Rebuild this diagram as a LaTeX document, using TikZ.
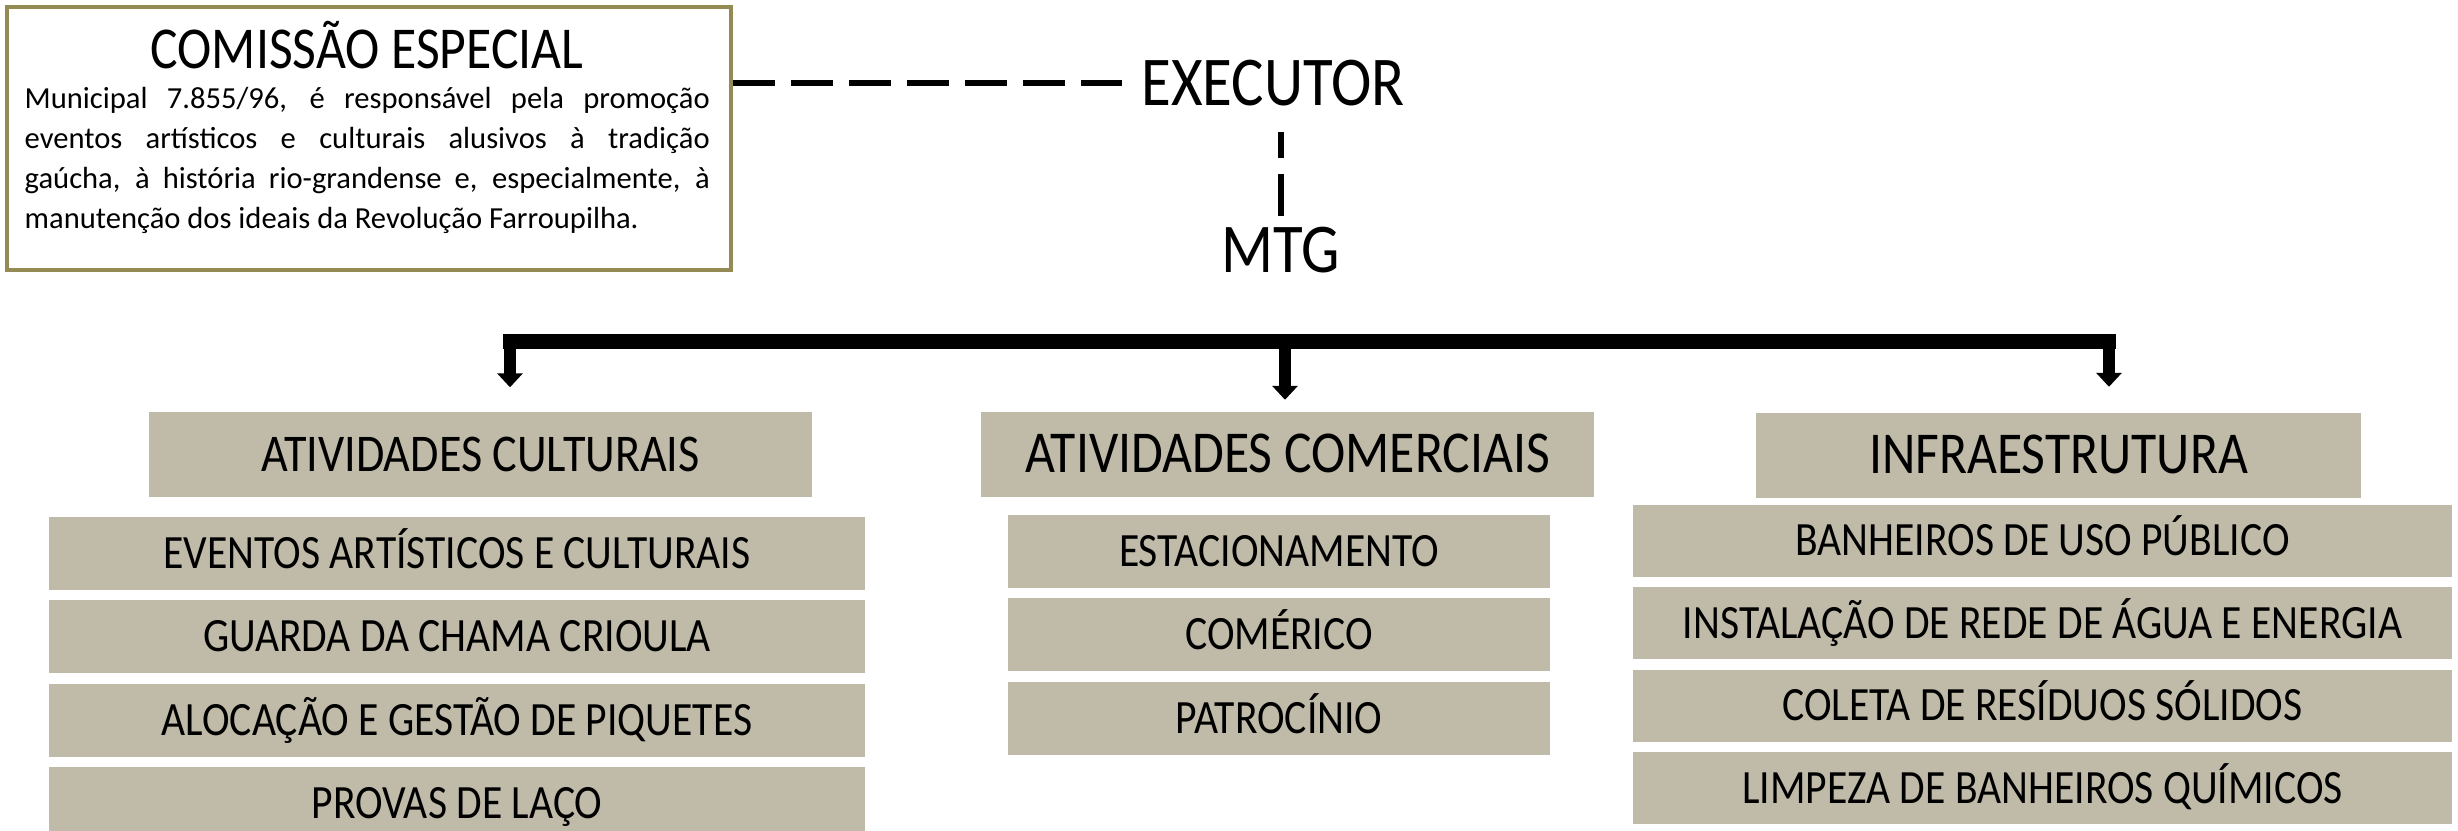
\documentclass[tikz,border=0pt]{standalone}
\usepackage{fontspec}
\setmainfont{Carlito}
\newfontfamily\estreita{Carlito}[FakeStretch=0.87]
\usetikzlibrary{arrows.meta,positioning}

\definecolor{areia}{RGB}{192,187,168}
\definecolor{oliva}{RGB}{148,138,84}

\begin{document}
\begin{tikzpicture}[
  moldura/.style={draw=oliva, line width=1.1pt, minimum width=7.24cm, minimum height=2.63cm, anchor=north west},
  rotulo/.style={inner sep=0pt, anchor=base, font=\estreita\fontsize{19.9}{23}\selectfont},
  cabeca/.style={fill=areia, minimum height=0.85cm, text height=10.7pt, text depth=0pt, font=\estreita\fontsize{16.9}{19}\selectfont},
  item/.style={fill=areia, minimum height=0.73cm, text height=8.6pt, text depth=0pt, font=\estreita\fontsize{13.6}{16}\selectfont},
  itemE/.style={item, minimum width=8.16cm},
  itemC/.style={item, minimum width=5.42cm},
  itemD/.style={item, minimum width=8.19cm, minimum height=0.72cm},
  tracejado/.style={line width=1.7pt, dash pattern=on 0.42cm off 0.16cm},
  tronco/.style={line width=4pt, line cap=rect},
  seta/.style={line width=3.4pt, -{Triangle[width=2.5mm,length=1.4mm]}},
  node distance=0.09cm
]
\useasboundingbox (0,0) rectangle (24.58,-8.31);

% comissao especial
\node[moldura] (comissao) at (0.05,-0.05) {};
\node[inner sep=0pt, anchor=base, font=\estreita\fontsize{16.9}{19}\selectfont] (nome) at (3.67,-0.68) {COMISSÃO ESPECIAL};
\node[inner sep=0pt, anchor=base west, text width=6.85cm, align=justify,
      font=\fontsize{8.7}{11.4}\selectfont] (lei) at (0.24,-1.08)
  {\hyphenpenalty=10000 \exhyphenpenalty=10000
   Municipal 7.855/96, é responsável pela promoção\linebreak
   eventos artísticos e culturais alusivos à tradição\linebreak
   gaúcha, à história rio-grandense e, especialmente, à\linebreak
   manutenção dos ideais da Revolução Farroupilha.};

\node[rotulo] (executor) at (12.73,-1.05) {EXECUTOR};
\node[rotulo] (mtg) at (12.81,-2.72) {MTG};

\draw[tracejado, shorten >=0.19cm] (comissao.east |- executor.west) -- (executor.west);
\draw[tracejado, shorten <=0.10cm, shorten >=0.26cm] (mtg.north) -- (mtg.north |- executor.south);

% ramos
\coordinate (ramoE) at (5.10,-3.415);
\coordinate (ramoC) at (12.85,-3.415);
\coordinate (ramoD) at (21.09,-3.415);

\node[cabeca, minimum width=6.63cm, text height=9.5pt, font=\estreita\fontsize{15.1}{18}\selectfont] (cultura) at (4.805,-4.545) {ATIVIDADES CULTURAIS};
\node[cabeca, minimum width=6.13cm] (comercio) at (12.875,-4.54) {ATIVIDADES COMERCIAIS};
\node[cabeca, minimum width=6.05cm] (infra) at (20.585,-4.55) {INFRAESTRUTURA};

\draw[tronco] (ramoE) -- (ramoD);
\draw[seta, shorten >=0.24cm] (ramoE) -- (ramoE |- cultura.north);
\draw[seta, shorten >=0.11cm] (ramoC) -- (ramoC |- comercio.north);
\draw[seta, shorten >=0.25cm] (ramoD) -- (ramoD |- infra.north);

% atividades culturais
\node[itemE, anchor=north] (eventos) at (4.57,-5.16) {EVENTOS ARTÍSTICOS E CULTURAIS};
\node[itemE, below=of eventos] (chama) {GUARDA DA CHAMA CRIOULA};
\node[itemE, below=of chama] (piquetes) {ALOCAÇÃO E GESTÃO DE PIQUETES};
\node[itemE, below=of piquetes] (laco) {PROVAS DE LAÇO};

% atividades comerciais
\node[itemC, anchor=north] (estacionamento) at (12.79,-5.14) {ESTACIONAMENTO};
\node[itemC, below=of estacionamento] (comerico) {COMÉRICO};
\node[itemC, below=of comerico] (patrocinio) {PATROCÍNIO};

% infraestrutura
\node[itemD, anchor=north] (banheiros) at (20.425,-5.04) {BANHEIROS DE USO PÚBLICO};
\node[itemD, below=of banheiros] (rede) {INSTALAÇÃO DE REDE DE ÁGUA E ENERGIA};
\node[itemD, below=of rede] (residuos) {COLETA DE RESÍDUOS SÓLIDOS};
\node[itemD, below=of residuos] (limpeza) {LIMPEZA DE BANHEIROS QUÍMICOS};
\end{tikzpicture}
\end{document}
